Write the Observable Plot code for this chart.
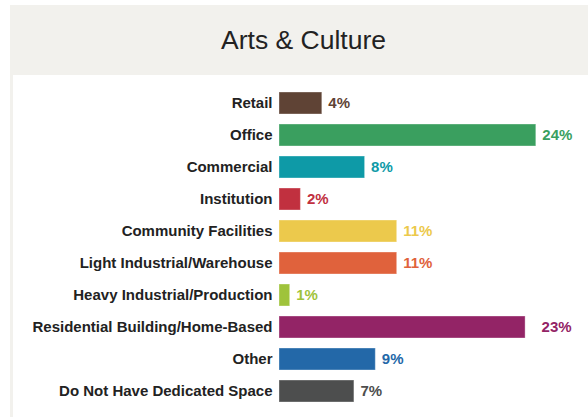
<!DOCTYPE html>
<html>
<head>
<meta charset="utf-8">
<script src="https://cdn.jsdelivr.net/npm/d3@7"></script>
<script src="https://cdn.jsdelivr.net/npm/@observablehq/plot@0.6"></script>
<style>
  html, body { margin: 0; padding: 0; background: #ffffff; width: 588px; height: 417px; overflow: hidden; }
  #frame { position: absolute; left: 10px; top: 5px; right: 0; bottom: 0; background: #f2f1ed; }
  #header { height: 70px; box-sizing: border-box; padding-left: 9px; text-align: center;
            font-family: "Liberation Sans", Arial, Helvetica, sans-serif; font-size: 26.5px; color: #222;
            line-height: 70px; }
  #panel { position: absolute; left: 3px; top: 70px; right: 0; bottom: 0; background: #ffffff; }
  #panel svg { display: block; }
</style>
</head>
<body>
<div id="frame">
  <div id="header">Arts &amp; Culture</div>
  <div id="panel"></div>
</div>
<script>
const categories = [
  "Retail", "Office", "Commercial", "Institution", "Community Facilities",
  "Light Industrial/Warehouse", "Heavy Industrial/Production",
  "Residential Building/Home-Based", "Other", "Do Not Have Dedicated Space"
];
const values = [4, 24, 8, 2, 11, 11, 1, 23, 9, 7];
const colors = [
  "#5f4335", "#3a9f5f", "#0e9aa7", "#c1303f", "#ecc94c",
  "#e0623c", "#9fc33b", "#932466", "#2368a8", "#4d4e4e"
];
const labels = ["4%", "24%", "8%", "2%", "11%", "11%", "1%", "23%", "9%", "7%"];

const data = categories.map((c, i) => ({category: c, value: values[i], color: colors[i], label: labels[i]}));
const shifted = new Set(["Residential Building/Home-Based"]);

const chart = Plot.plot({
  width: 575,
  height: 342,
  marginLeft: 266,
  marginRight: 9.4,
  marginTop: 7.1,
  marginBottom: 4.2,
  style: {fontFamily: "Liberation Sans, Arial, Helvetica, sans-serif", background: "transparent"},
  x: {domain: [0, 28], axis: null},
  y: {domain: categories, padding: 0.3, label: null, tickSize: 0, tickPadding: 7},
  marks: [
    Plot.barX(data, {y: "category", x: "value", fill: "color", stroke: "#ffffff", strokeOpacity: 0.35, strokeWidth: 1}),
    Plot.text(data.filter(d => !shifted.has(d.category)), {
      y: "category", x: "value", text: "label", fill: "color",
      textAnchor: "start", dx: 6, fontSize: 15, fontWeight: "bold"
    }),
    Plot.text(data.filter(d => shifted.has(d.category)), {
      y: "category", x: "value", text: "label", fill: "color",
      textAnchor: "start", dx: 16, fontSize: 15, fontWeight: "bold"
    }),
    Plot.axisY({tickSize: 0, tickPadding: 7, fontSize: 15, fontWeight: "bold", fill: "#222", label: null})
  ]
});
document.getElementById("panel").appendChild(chart);
</script>
</body>
</html>
